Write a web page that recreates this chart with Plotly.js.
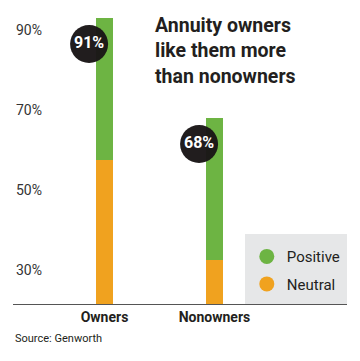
<!DOCTYPE html>
<html><head><meta charset="utf-8">
<script src="https://cdn.plot.ly/plotly-3.0.1.min.js"></script>
<style>html,body{margin:0;padding:0;background:#fff}#chart{width:360px;height:361px}</style>
</head><body><div id="chart"></div>
<script>
const categories = ["Owners", "Nonowners"];
const neutral = [57.5, 32.5];
const positive = [35.5, 35.5];
const badgeLabels = ["91%", "68%"];
const yTickVals = [30, 50, 70, 90];
const yTickText = ["30%", "50%", "70%", "90%"];

const FONT = 'Roboto, "Liberation Sans", sans-serif';
const GREEN = '#6db443', ORANGE = '#f0a21f';
const idx = categories.map((_, i) => i);
const totals = neutral.map((v, i) => v + positive[i]);

const traces = [
  {type:'bar', x: idx, y: neutral, width: 0.155, marker:{color: ORANGE}, showlegend:false, hoverinfo:'skip'},
  {type:'bar', x: idx, y: positive, width: 0.155, marker:{color: GREEN}, showlegend:false, hoverinfo:'skip'},
  {type:'scatter', mode:'markers+text', x: idx.map(i => i - 0.14), y: totals.map(t => t - 6.5),
   text: badgeLabels.map(t => '<b>' + t + '</b>'), textposition:'middle center',
   textfont:{family: FONT, size: 16, color:'#fff'},
   marker:{size: 38, color:'#1a1617', opacity: 0.97}, showlegend:false, hoverinfo:'skip', cliponaxis:false},
  {type:'scatter', mode:'markers', name:'Positive', legendgroup:'p', x:[null], y:[null], marker:{size:15, color: GREEN, symbol:'circle'}},
  {type:'scatter', mode:'markers', name:'Neutral', legendgroup:'n', x:[null], y:[null], marker:{size:15, color: ORANGE, symbol:'circle'}}
];

const layout = {
  width: 360, height: 361,
  margin: {l: 13, r: 13, t: 0, b: 57},
  paper_bgcolor:'#fff', plot_bgcolor:'#fff',
  barmode:'stack',
  showlegend: true,
  legend: {x: 0.7, y: 0.21, xanchor:'left', yanchor:'top', bgcolor:'rgba(0,0,0,0)', traceorder:'grouped',
           font:{family: FONT, size: 15, color:'#231f20'}, tracegroupgap: 5, itemwidth: 30},
  xaxis: {range:[-0.832, 2.205], tickvals: idx, ticktext: categories.map(c => '<b>' + c + '</b>'),
          showgrid:false, zeroline:false, showline:true, linecolor:'#555', linewidth:1,
          ticks:'', tickfont:{family: FONT, size: 14, color:'#231f20'}, fixedrange:true},
  yaxis: {range:[21.5, 97.5], tickvals: yTickVals, ticktext: yTickText, ticklabelposition:'inside',
          showgrid:false, zeroline:false, showline:false, ticks:'',
          tickfont:{family: FONT, size: 14, color:'#333'}, fixedrange:true},
  shapes: [{type:'rect', xref:'paper', yref:'paper', x0: 0.6946, x1: 1.0, y0: 0, y1: 0.2303,
            fillcolor:'#e6e7e8', line:{width:0}, layer:'below'}],
  annotations: [
    {xref:'paper', yref:'paper', x: 0.419, y: 0.962, xanchor:'left', yanchor:'top', align:'left', showarrow:false,
     text:'<b>Annuity owners<br>like them more<br>than nonowners</b>',
     font:{family: FONT, size: 19.5, color:'#231f20'}},
    {xref:'paper', yref:'paper', x: 0, y: -0.085, xanchor:'left', yanchor:'top', showarrow:false,
     text:'Source: Genworth', font:{family: FONT, size: 11, color:'#231f20'}}
  ]
};

Plotly.newPlot('chart', traces, layout, {displayModeBar:false, staticPlot:true});
</script></body></html>
